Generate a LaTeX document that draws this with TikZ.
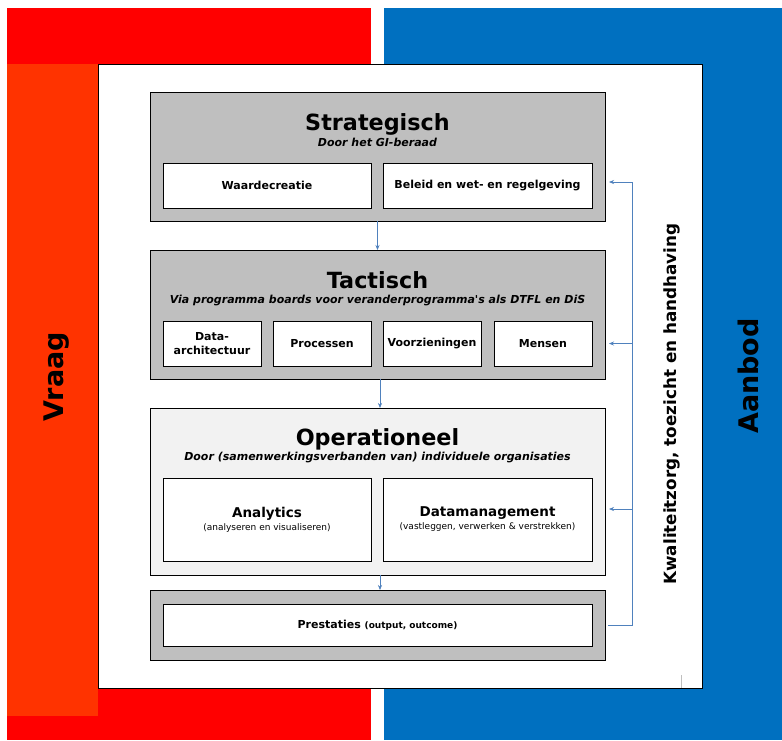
\documentclass[tikz,border=0pt]{standalone}
\usepackage{fontspec}
\setmainfont{DejaVu Sans}
\usetikzlibrary{positioning, arrows.meta}

\definecolor{vraagred}{RGB}{255,0,0}
\definecolor{vraagorange}{RGB}{255,51,0}
\definecolor{aanbodblue}{RGB}{0,112,192}
\definecolor{layergrey}{RGB}{191,191,191}
\definecolor{layerlight}{RGB}{242,242,242}
\definecolor{arrowblue}{RGB}{79,129,189}

\tikzset{
  layerbox/.style={draw=black, line width=1pt, fill=layergrey, minimum width=455pt, outer sep=0pt},
  subbox/.style={draw=black, line width=1pt, fill=white, minimum height=45pt, outer sep=0pt, inner sep=1pt, align=center, font=\fontsize{11}{14}\selectfont\bfseries},
  titletext/.style={anchor=base, font=\fontsize{22.3}{26}\selectfont\bfseries},
  subtitletext/.style={anchor=base, font=\fontsize{11}{13}\selectfont\bfseries\itshape},
  sidetext/.style={rotate=90, font=\fontsize{27}{30}\selectfont\bfseries},
  flow/.style={arrowblue, line width=0.6pt, -{Stealth[length=5pt,width=4pt]}},
}

\begin{document}
\begin{tikzpicture}[x=1pt,y=-1pt]
\useasboundingbox (0,0) rectangle (782,740);
% vraag en aanbod
\fill[vraagred] (7,8) rectangle (371,740);
\fill[aanbodblue] (384,8) rectangle (782,740);
\fill[vraagorange] (7,64) rectangle (98,716);
\draw[line width=1pt, fill=white] (98,64) rectangle (702,688);
\draw[gray!50, line width=0.6pt] (681,675) -- (681,688);
\node[sidetext] (vraag) at (56.5,377) {Vraag};
\node[sidetext] (aanbod) at (748.5,376) {Aanbod};

% lagen
\node[layerbox, minimum height=129pt] (strat) at (377.5,156.5) {};
\node[titletext] (strattitle) at (377.5,130) {Strategisch};
\node[subtitletext] (stratsub) at (377.5,146) {Door het GI-beraad};
\node[subbox, minimum width=208pt] (waarde) at (267,185.5) {Waardecreatie};
\node[subbox, minimum width=209pt, right=12pt of waarde] (beleid) {Beleid en wet- en regelgeving};

\node[layerbox, minimum height=129pt] (tact) at (377.5,314.5) {};
\node[titletext] (tacttitle) at (377.5,288) {Tactisch};
\node[subtitletext] (tactsub) at (377.5,303) {Via programma boards voor veranderprogramma\textquotesingle s als DTFL en DiS};
\node[subbox, minimum width=98pt] (data) at (212,343.5) {Data-\\architectuur};
\node[subbox, minimum width=98pt, right=12pt of data] (proces) {Processen};
\node[subbox, minimum width=98pt, right=12pt of proces] (voorz) {Voorzieningen};
\node[subbox, minimum width=98pt, right=13pt of voorz] (mensen) {Mensen};

\node[layerbox, fill=layerlight, minimum height=167pt] (oper) at (377.5,491.5) {};
\node[titletext] (opertitle) at (377.5,445) {Operationeel};
\node[subtitletext] (opersub) at (377.5,460) {Door (samenwerkingsverbanden van) individuele organisaties};
\node[subbox, minimum width=208pt, minimum height=83pt] (analytics) at (267,519.5)
  {{\fontsize{13.5}{13}\selectfont Analytics}\\[-1pt]{\fontsize{9}{11}\selectfont\mdseries (analyseren en visualiseren)}};
\node[subbox, minimum width=209pt, minimum height=83pt, right=12pt of analytics] (datamgmt)
  {{\fontsize{13.5}{13}\selectfont Datamanagement}\\[-1pt]{\fontsize{9}{11}\selectfont\mdseries (vastleggen, verwerken \& verstrekken)}};

\node[layerbox, minimum height=70pt] (prest) at (377.5,625) {};
\node[subbox, minimum width=429pt, minimum height=42pt] (prestinner) at (377.5,625)
  {Prestaties {\fontsize{9}{11}\selectfont(output, outcome)}};

% pijlen
\draw[flow] (strat.south) -- (tact.north);
\draw[flow] ([xshift=2.5pt]tact.south) -- ([xshift=2.5pt]oper.north);
\draw[flow] ([xshift=2.5pt]oper.south) -- ([xshift=2.5pt]prest.north);

% terugkoppeling
\coordinate (bus) at (632,182);
\coordinate (operfb) at (632,509);
\draw[flow] ([xshift=3pt]prest.east) -| (bus) -- ([xshift=4pt]strat.east |- bus);
\draw[flow] (bus |- mensen.east) -- ([xshift=4pt]tact.east |- mensen.east);
\draw[flow] (operfb) -- ([xshift=4pt]oper.east |- operfb);
\node[rotate=90, font=\fontsize{16.8}{20}\selectfont\bfseries] (kwal) at (672,404) {Kwaliteitzorg, toezicht en handhaving};
\end{tikzpicture}
\end{document}
